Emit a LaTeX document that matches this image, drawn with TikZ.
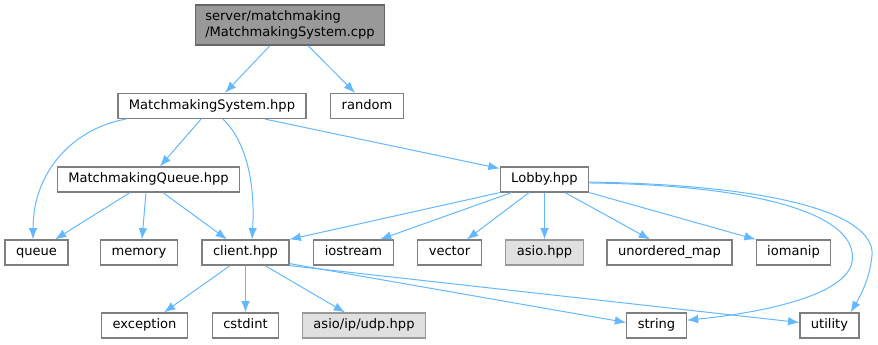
\documentclass[tikz,border=0pt]{standalone}
\usepackage{fontspec}
\setmainfont{DejaVu Sans}
\usepackage{tikz}
\usetikzlibrary{arrows.meta}
\definecolor{steelblue1}{RGB}{99,184,255}
\definecolor{grey40}{RGB}{102,102,102}
\definecolor{grey50}{RGB}{127,127,127}
\definecolor{grey60}{RGB}{153,153,153}
\definecolor{grey88}{RGB}{224,224,224}

\begin{document}
\begin{tikzpicture}[x=0.75pt, y=-0.75pt]
    \tikzset{ hdr/.style={draw=grey50, fill=white, line width=0.9pt, text=black, inner xsep=8.25pt, inner ysep=0pt, minimum height=18.75pt, text height=7.4pt, text depth=2.2pt, font=\fontsize{9.8}{11.6}\selectfont} }
    \tikzset{ ext/.style={hdr, draw=grey60, fill=grey88} }
    \tikzset{ src/.style={hdr, draw=grey40, fill=grey60, align=left, inner xsep=7.5pt, minimum height=30pt, text height=, text depth=} }
    \tikzset{ inc/.style={->, >={Latex[length=8.5pt,width=6.5pt]}, draw=steelblue1, line width=0.75pt} }

    \useasboundingbox (0,0) rectangle (878,344);

    \node[src] (cpp)     at (290.0,  25.0) {server/matchmaking\\/MatchmakingSystem.cpp};
    \node[hdr] (msys)    at (212.0, 106.0) {MatchmakingSystem.hpp};
    \node[hdr] (random)  at (367.0, 106.0) {random};
    \node[hdr] (mqueue)  at (148.5, 179.5) {MatchmakingQueue.hpp};
    \node[hdr] (lobby)   at (544.5, 179.5) {Lobby.hpp};

    \node[hdr] (queue)   at ( 36.5, 252.5) {queue};
    \node[hdr] (memory)  at (139.0, 252.5) {memory};
    \node[hdr] (client)  at (245.5, 252.5) {client.hpp};
    \node[hdr] (iostream)at (353.5, 252.5) {iostream};
    \node[hdr] (vector)  at (449.5, 252.5) {vector};
    \node[ext] (asio)    at (544.5, 252.5) {asio.hpp};
    \node[hdr] (umap)    at (669.5, 252.5) {unordered\_map};
    \node[hdr] (iomanip) at (793.5, 252.5) {iomanip};

    \node[hdr] (except)  at (144.5, 325.5) {exception};
    \node[hdr] (cstdint) at (245.5, 325.5) {cstdint};
    \node[ext] (udp)     at (364.0, 325.5) {asio/ip/udp.hpp};
    \node[hdr] (string)  at (656.5, 325.5) {string};
    \node[hdr] (utility) at (829.5, 325.5) {utility};

    % source file
    \draw[inc] ([xshift=-15pt]cpp.south)     -- ([xshift=9.75pt]msys.north);
    \draw[inc] ([xshift=13.5pt]cpp.south)    -- ([xshift=-9pt]random.north);

    % MatchmakingSystem.hpp
    \draw[inc] ([xshift=-64.5pt]msys.south)  .. controls (75,128) and (33,170) .. ([xshift=-2.6pt]queue.north);
    \draw[inc] ([xshift=-8.25pt]msys.south)  -- ([xshift=8.6pt]mqueue.north);
    \draw[inc] ([xshift=8.25pt]msys.south)   .. controls (240,135) and (256,170) .. ([xshift=4.9pt]client.north);
    \draw[inc] ([xshift=39.75pt]msys.south)  -- ([yshift=8.25pt]lobby.west);

    % MatchmakingQueue.hpp
    \draw[inc] ([xshift=-13.9pt]mqueue.south) -- ([xshift=13.9pt]queue.north);
    \draw[inc] ([xshift=-1.9pt]mqueue.south)  -- ([xshift=2.25pt]memory.north);
    \draw[inc] ([xshift=10.9pt]mqueue.south)  -- ([xshift=-13.9pt]client.north);

    % Lobby.hpp
    \draw[inc] (lobby.south west)             -- (client.north east);
    \draw[inc] ([xshift=-24.75pt]lobby.south) -- ([xshift=19.9pt]iostream.north);
    \draw[inc] ([xshift=-11.6pt]lobby.south)  -- ([xshift=13.1pt]vector.north);
    \draw[inc] (lobby.south)                  -- (asio.north);
    \draw[inc] ([xshift=15.4pt]lobby.south)   -- ([xshift=-14.6pt]umap.north);
    \draw[inc] (lobby.south east)             -- (iomanip.north west);
    \draw[inc] ([yshift=-2.6pt]lobby.east)   .. controls (760,185) and (860,215) .. (852,262)
                                              .. controls (845,300) and (740,315) .. ([yshift=4pt]string.east);
    \draw[inc] ([yshift=-1.9pt]lobby.east)   .. controls (780,185) and (875,215) .. (872,255)
                                              .. controls (870,280) and (858,300) .. ([xshift=15.75pt]utility.north);

    % client.hpp
    \draw[inc] ([xshift=-11.6pt]client.south) -- ([xshift=14.6pt]except.north);
    \draw[inc] (client.south)                  -- (cstdint.north);
    \draw[inc] ([xshift=14.6pt]client.south)   -- ([xshift=-14.25pt]udp.north);
    \draw[inc] ([yshift=1.5pt]client.south east) -- ([yshift=2.25pt]string.west);
    \draw[inc] (client.south east)             -- ([yshift=2.25pt]utility.west);
\end{tikzpicture}
\end{document}
